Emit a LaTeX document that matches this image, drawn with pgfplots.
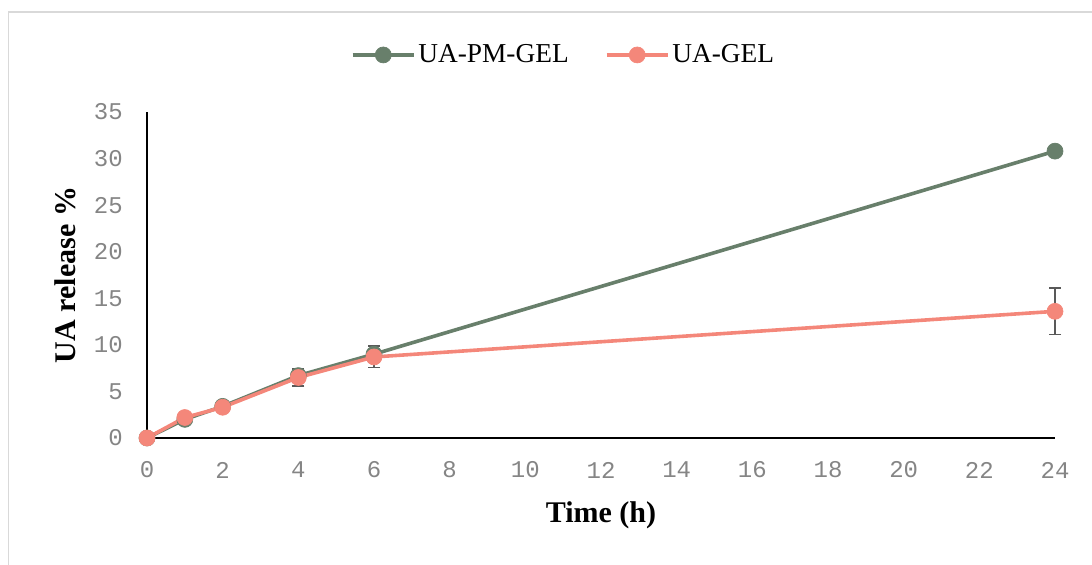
\documentclass[border=0pt]{standalone}
\usepackage{fontspec}
\setmainfont{Liberation Serif}
\setmonofont{Liberation Mono}
\usepackage{pgfplots}
\pgfplotsset{compat=1.18}
\definecolor{pmgel}{HTML}{687F6B}
\definecolor{uagel}{HTML}{F4877A}
\definecolor{tickgray}{HTML}{858585}
\definecolor{errgray}{HTML}{595959}
\definecolor{framegray}{HTML}{D9D9D9}
\begin{document}
\begin{tikzpicture}
\path[use as bounding box] (0,0) rectangle (819pt,423pt);
\draw[framegray, line width=1.2pt] (6.4pt,-2pt) -- (6.4pt,414pt) -- (821pt,414pt);
\begin{axis}[
  at={(110.25pt,94.5pt)}, anchor=south west,
  scale only axis, width=681pt, height=244.5pt,
  xmin=0, xmax=24, ymin=0, ymax=35,
  xtick={0,2,...,24}, ytick={0,5,...,35},
  axis x line=bottom, axis y line=left,
  axis line style={-, black, line width=1.1pt},
  major tick length=0pt,
  clip=false,
  /pgf/number format/assume math mode=true,
  ticklabel style={font=\ttfamily\fontsize{18}{21}\selectfont, text=tickgray, inner sep=0pt},
  yticklabel style={anchor=east, xshift=-18pt},
  xticklabel style={anchor=center, yshift=-24pt},
  xlabel={Time (h)}, ylabel={UA release \%},
  label style={font=\bfseries\fontsize{22.5}{26}\selectfont},
  xlabel style={at={(axis description cs:0.5,-0.2362)}, anchor=center},
  ylabel style={at={(axis description cs:-0.0903,0.5)}, anchor=center, rotate=0},
  legend columns=2,
  legend style={draw=none, fill=none, at={(axis description cs:0.459,1.175)}, anchor=center,
    font=\fontsize{20.5}{24}\selectfont,
    /tikz/every even column/.append style={column sep=25pt},
    nodes={inner sep=2pt}},
  legend image code/.code={\draw[#1, mark=none] (0pt,0pt) -- (46pt,0pt);
     \draw[#1] plot coordinates {(23pt,0pt)};},
  error bars/error bar style={errgray, line width=1pt},
  error bars/error mark options={errgray, line width=1pt, mark size=4.5pt, rotate=90},
]
\addplot[pmgel, line width=2.7pt, mark=*, mark size=6pt, mark options={solid, fill=pmgel, draw=pmgel, line width=0.5pt},
  error bars/.cd, y dir=both, y explicit]
  table[x=t, y=v, y error=e] {
t v e
0 0 0
1 2.0 0.2
2 3.4 0.3
4 6.7 0.7
6 9.0 0.9
24 30.8 0.3
};
\addlegendentry{UA-PM-GEL}
\addplot[uagel, line width=2.7pt, mark=*, mark size=6pt, mark options={solid, fill=uagel, draw=uagel, line width=0.5pt},
  error bars/.cd, y dir=both, y explicit]
  table[x=t, y=v, y error=e] {
t v e
0 0 0
1 2.2 0.2
2 3.3 0.3
4 6.5 0.9
6 8.7 1.1
24 13.6 2.5
};
\addlegendentry{UA-GEL}
\end{axis}
\end{tikzpicture}
\end{document}
